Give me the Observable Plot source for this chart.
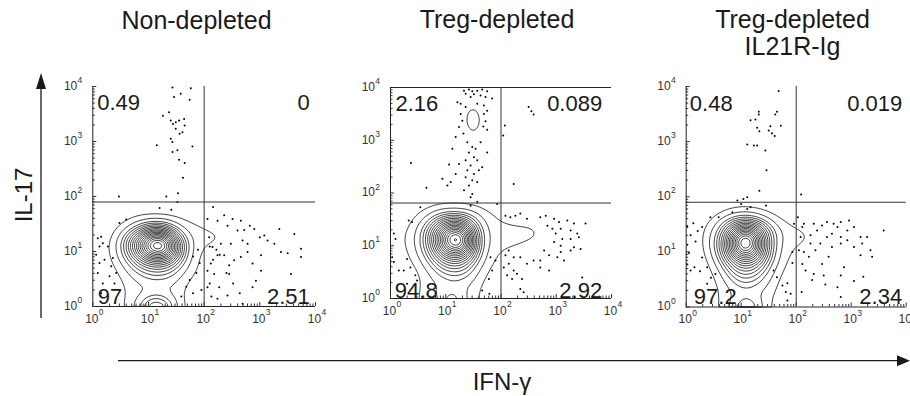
<!DOCTYPE html>
<html><head><meta charset="utf-8">
<script src="https://cdn.jsdelivr.net/npm/d3@7"></script>
<script src="https://cdn.jsdelivr.net/npm/@observablehq/plot@0.6"></script>
<style>
html,body{margin:0;padding:0;background:#fff;}
#wrap{position:relative;width:910px;height:396px;overflow:hidden;font-family:"Liberation Sans",Arial,Helvetica,sans-serif;}
</style></head><body><div id="wrap"></div>
<script>
// ---------- data (log10 units) ----------
const titles = ["Non-depleted", "Treg-depleted", "Treg-depleted\nIL21R-Ig"];
const yLabel = "IL-17";
const xLabel = "IFN-\u03b3";
const decades = [0, 1, 2, 3, 4];
const quad1 = ["0.49", "0", "97", "2.51"];
const quad2 = ["2.16", "0.089", "94.8", "2.92"];
const quad3 = ["0.48", "0.019", "97.2", "2.34"];
const gateX = [2, 2, 2];
const gateY = [1.9, 1.81, 1.9];
const levels = [1, 2, 3, ...d3.range(3.7, 21, 0.7)];

// density level grid (rows: y exponent, cols: x exponent)
const gridX = [0, 0.2, 0.4, 0.6, 0.8, 1.0, 1.2, 1.4, 1.6, 1.8, 2.0, 2.2, 2.4, 2.6, 2.8, 3.0];
const gridY = [2.0, 1.8, 1.6, 1.4, 1.2, 1.0, 0.8, 0.6, 0.4, 0.2, 0.0];
const grid1 = [
  [0,0,0,0,0,0,0,0,0,0,0,0,0,0,0,0],
  [0,0,0,0,0,0,0,0,0,0,0,0,0,0,0,0],
  [0,0,0.2,0.5,0.85,0.9,0.9,0.9,0.85,0.6,0.3,0,0,0,0,0],
  [0,0,0.6,1.7,3.3,5.9,6.8,4.8,1.9,1.4,1.2,1.1,0.6,0,0,0],
  [0,0.3,1.55,4.3,9.3,13.8,16.2,11.7,5.0,1.6,1.3,1.2,1.2,0.3,0,0],
  [0,0.33,1.6,4.3,8.8,13.5,15.0,11.5,5.0,1.3,0.7,0.5,0.3,0,0,0],
  [0,0.1,1.15,2.7,4.8,6.3,6.6,5.6,2.9,1.3,0.5,0.2,0,0,0,0],
  [0,0,0.6,1.55,2.8,3.8,4.0,3.4,1.9,1.15,0.4,0,0,0,0,0],
  [0,0,0.3,1.1,1.6,2.05,2.1,1.9,1.3,0.4,0,0,0,0,0,0],
  [0,0,0.2,1.1,1.4,1.7,1.75,1.6,1.1,0.2,0,0,0,0,0,0],
  [0,0,0.2,1.2,2.2,6.5,8.5,4.8,1.1,0.2,0,0,0,0,0,0]
];
const grid2 = [
  [0,0,0,0,0,0,0,0,0,0,0,0,0,0,0,0],
  [0,0,0,0.1,0.4,0.5,0.5,0.5,0.4,0.1,0,0,0,0,0,0],
  [0,0,0.5,1.3,2.3,2.9,3.0,2.8,2.0,1.2,0.5,0.1,0,0,0,0],
  [0,0.3,1.2,2.6,5.5,8.5,10.0,7.5,3.0,1.5,1.3,1.2,1.15,1.1,0.6,0],
  [0,0.8,1.6,3.4,8.0,13.0,17.2,12.0,3.6,1.6,1.4,1.35,1.3,1.25,1.05,0],
  [0,0.7,1.55,3.3,7.8,13.0,16.0,11.5,3.5,1.5,1.3,1.1,0.95,0.7,0.3,0],
  [0,0.3,1.3,2.6,5.5,8.5,9.5,7.0,2.8,1.3,0.7,0.5,0.3,0,0,0],
  [0,0,0.7,1.7,3.4,5.0,5.4,4.2,1.9,1.1,0.3,0,0,0,0,0],
  [0,0,0.3,1.05,2.3,3.2,3.5,2.9,1.4,0.5,0,0,0,0,0,0],
  [0,0,0.8,1.1,1.6,1.75,1.75,1.7,1.1,0.2,0,0,0,0,0,0],
  [0,0,0.8,1.2,1.6,4.0,5.0,1.8,0.9,0.2,0,0,0,0,0,0]
];
const grid3 = [
  [0,0,0,0,0,0,0,0,0,0,0,0,0,0,0,0],
  [0,0,0,0.1,0.4,0.6,0.6,0.4,0.2,0,0,0,0,0,0,0],
  [0,0,0.5,1.4,2.6,3.4,3.3,2.2,1.3,0.6,0.2,0,0,0,0,0],
  [0,0.2,1.3,3.0,6.5,10.5,11.0,7.0,3.0,1.6,1.3,1.1,0.4,0,0,0],
  [0,0.3,1.55,4.0,9.5,17.5,14.5,8.0,2.8,1.5,1.3,1.15,0.8,0.2,0,0],
  [0,0.2,1.3,3.9,9.0,14.0,13.0,7.5,2.7,1.3,0.7,0.4,0.2,0,0,0],
  [0,0,0.8,2.6,5.5,8.0,7.5,5.0,2.3,0.9,0.4,0.1,0,0,0,0],
  [0,0,0.4,1.5,3.6,5.4,5.0,3.5,1.5,0.6,0,0,0,0,0,0],
  [0,0,0.2,1.05,2.4,3.5,3.3,2.3,1.2,0.2,0,0,0,0,0,0],
  [0,0,0.1,1.1,1.5,1.7,1.65,1.5,0.9,0.1,0,0,0,0,0,0],
  [0,0,0.1,1.1,1.8,5.0,5.8,1.8,0.6,0.1,0,0,0,0,0,0]
];
const apex1 = [1.19, 1.12, 21];
const apex2 = [1.18, 1.13, 21];
const apex3 = [1.11, 1.18, 21];
// extra density samples (panel 2 IL-17+ population)
const extra2 = [[1.49,3.38,1.95],[1.49,3.55,1.9],[1.49,3.21,1.9],[1.49,3.7,1.3],[1.49,3.06,1.3],[1.40,3.38,1.7],[1.58,3.38,1.7],[1.25,3.38,0],[1.75,3.38,0],[1.49,3.98,0],[1.49,2.8,0],[1.28,3.7,0],[1.70,3.7,0],[1.28,3.05,0],[1.70,3.05,0]];

const dots1 = [[1.43,3.98],[1.76,3.97],[1.46,3.81],[1.58,3.87],[1.74,3.76],[1.26,3.47],[1.37,3.53],[1.40,3.38],[1.49,3.35],[1.55,3.38],[1.44,3.32],[1.64,3.41],[1.49,3.23],[1.65,3.29],[1.61,3.17],[1.56,3.14],[1.40,3.05],[1.43,2.99],[1.15,2.93],[1.79,2.91],[1.52,2.84],[1.43,2.81],[1.55,2.67],[1.65,2.61],[1.62,2.34],[1.53,2.06],[0.47,2.0],[1.32,2.0],[1.52,1.90],
[2.16,1.81],[2.36,1.66],[2.06,1.59],[2.24,1.56],[2.51,1.59],[2.66,1.56],[2.82,1.47],[2.42,1.47],[2.60,1.38],[2.72,1.39],[2.90,1.41],[3.08,1.29],[3.35,1.41],[3.00,1.26],[3.14,1.20],[3.26,1.14],[3.50,0.97],[3.74,1.05],[3.74,0.90],[3.38,0.99],[3.02,0.93],[2.78,1.14],[2.69,1.20],[2.48,1.14],[2.30,1.14],[2.15,1.08],[2.24,0.93],[2.36,0.93],[2.54,0.84],[2.45,0.75],[2.66,0.90],[2.78,0.99],[2.87,0.78],[3.02,0.65],[2.12,0.78],[2.06,0.65],[2.18,0.59],[2.45,0.59],[2.27,0.35],[2.24,0.14],[2.06,0.35],[2.42,0.20],[2.69,0.05],[2.93,0.47],[2.87,0.35],[3.56,0.59],[3.62,1.32],[2.09,1.26],[2.10,1.09],[2.22,1.03],[2.28,0.94],[2.16,0.85],[2.40,0.61],[2.10,0.42],[2.13,0.18],[2.64,0.24],[2.52,0.42],
[0.09,1.24],[0.15,1.27],[0.12,1.09],[0.18,1.15],[0.27,1.09],[0.06,0.94],[0.12,0.79],[0.21,0.85],[0.33,0.73],[0.36,0.88],[0.42,0.61],[0.30,0.55],[0.09,0.61],[0.18,0.42],[0.15,0.24],[0.39,0.42],[0.48,1.52],[0.60,1.58],[1.20,1.79],[1.41,1.76],[1.80,0.91],[1.92,0.79],[1.86,0.61],[1.74,0.48],[1.68,0.36],[1.80,0.24],[1.95,0.30],[1.59,0.18],[1.89,1.03]];
const dots2 = [[1.33,3.94],[1.42,3.96],[1.48,3.93],[1.57,3.94],[1.66,3.96],[1.75,3.93],[1.36,3.88],[1.51,3.87],[1.63,3.85],[1.72,3.82],[1.45,3.82],[1.84,3.79],[1.21,3.72],[1.27,3.69],[1.36,3.63],[1.57,3.69],[1.69,3.66],[1.75,3.56],[1.27,3.50],[1.30,3.37],[1.24,3.25],[1.32,3.13],[1.69,3.50],[1.72,3.36],[1.68,3.26],[1.75,3.20],[1.18,3.06],[1.39,2.96],[1.48,2.87],[1.54,2.84],[1.63,2.96],[1.42,2.77],[1.51,2.68],[1.57,2.62],[1.45,2.52],[1.39,2.43],[1.51,2.36],[1.60,2.43],[1.66,2.49],[1.36,2.30],[1.48,2.24],[1.57,2.21],[1.42,2.14],[1.33,2.05],[1.48,1.98],[1.45,1.92],[1.09,2.21],[1.03,2.14],[1.18,2.36],[1.12,2.84],[1.75,2.77],[1.24,2.55],[1.36,2.62],[0.94,2.27],[1.06,2.54],[0.37,2.57],[0.65,2.10],[2.07,3.28],[2.04,3.09],[2.23,2.17],[2.50,3.63],[2.55,3.55],[2.59,3.49],[3.02,3.77],[1.57,1.83],[1.93,1.79],[1.45,1.76],
[0.06,1.23],[0.09,1.13],[0.03,0.78],[0.06,0.69],[0.15,0.53],[0.24,0.53],[0.30,0.75],[0.33,1.48],[0.39,1.45],[0.36,0.59],[0.45,0.44],[0.48,0.34],[0.30,0.28],[0.54,1.73],[1.81,0.78],[1.90,0.72],[1.84,0.53],[1.78,0.37],[1.66,0.15],[1.79,0.09],
[2.08,1.57],[2.17,1.54],[2.26,1.57],[2.35,1.61],[2.47,1.51],[2.71,1.54],[2.81,1.57],[2.96,1.51],[3.05,1.45],[3.20,1.48],[3.32,1.42],[3.53,1.42],[2.84,1.38],[2.93,1.32],[3.08,1.32],[3.26,1.29],[3.38,1.23],[2.99,1.23],[3.11,1.13],[3.26,1.13],[3.41,1.16],[2.96,1.07],[3.08,1.00],[3.32,0.97],[3.44,0.94],[2.78,0.91],[2.87,0.82],[3.02,0.78],[3.14,0.72],[3.26,0.91],[2.71,0.72],[2.59,0.72],[2.47,0.66],[2.35,0.78],[2.23,0.78],[2.14,0.66],[2.05,0.59],[2.23,0.53],[2.11,0.44],[2.29,0.47],[2.38,0.37],[2.20,0.37],[2.41,0.12],[2.35,0.18],[2.71,0.59],[2.87,0.53],[3.47,0.40],[3.08,0.88],[2.08,0.82],[2.14,0.91]];
const dots3 = [[1.68,3.92],[1.32,3.54],[1.32,3.49],[1.26,3.40],[1.65,3.54],[1.62,3.49],[1.72,3.29],[1.53,3.28],[1.50,3.20],[1.56,3.15],[1.17,3.39],[1.29,3.25],[1.33,3.19],[1.61,3.10],[1.11,2.95],[1.23,2.93],[1.29,2.93],[1.44,2.84],[1.46,2.48],[1.33,2.11],[0.93,1.93],[1.04,1.96],[1.11,1.99],[1.00,1.87],[1.45,1.84],[2.09,2.04],[1.17,1.81],
[0.02,1.45],[0.13,1.52],[0.21,1.38],[0.08,1.30],[0.17,1.19],[0.02,1.13],[0.05,0.98],[0.02,0.77],[0.08,0.66],[0.15,0.72],[0.29,0.90],[0.25,0.65],[0.38,0.42],[0.45,0.53],[0.53,0.60],[0.38,0.72],[0.29,1.45],[0.44,1.63],[0.59,1.63],[0.84,1.72],[1.11,1.78],
[1.65,0.54],[1.59,0.66],[1.75,0.39],[1.81,0.27],[1.84,0.43],[1.93,0.80],[1.96,1.51],[1.90,0.24],[1.84,0.12],[1.93,1.00],
[2.03,1.63],[2.14,1.51],[2.11,1.45],[2.26,1.30],[2.38,1.39],[2.32,1.51],[2.47,1.48],[2.56,1.54],[2.68,1.51],[2.81,1.54],[2.96,1.57],[3.05,1.45],[2.93,1.39],[2.75,1.45],[2.65,1.33],[2.56,1.27],[2.44,1.15],[2.35,1.03],[2.23,0.91],[2.14,1.00],[2.26,1.15],[2.08,1.27],[2.81,1.27],[2.93,1.21],[3.17,1.27],[3.20,1.15],[3.29,1.27],[3.59,1.39],[3.35,1.03],[3.17,0.94],[3.05,1.09],[2.81,1.15],[2.65,1.09],[2.59,0.91],[2.47,0.78],[2.32,0.60],[2.29,0.49],[2.50,0.57],[2.53,0.41],[2.81,0.57],[2.75,0.36],[2.81,0.18],[3.05,0.47],[3.22,0.55],[3.38,0.91],[2.87,0.72],[2.11,0.78],[2.17,0.66],[2.05,1.03],[2.10,0.27]];

// ---------- build ----------
const FONT = '"Liberation Sans", Arial, Helvetica, sans-serif';
const minorTicks = [];
for (let d = 0; d < 4; d++) for (let k = 2; k < 10; k++) minorTicks.push(d + Math.log10(k));

function field(grid, apex, extra) {
  const pts = [];
  grid.forEach((row, i) => row.forEach((v, j) => pts.push({x: gridX[j], y: gridY[i], v})));
  pts.push({x: apex[0], y: apex[1], v: apex[2]});
  for (const [x, y, v] of extra) pts.push({x, y, v});
  for (const [x, y] of [[4,0],[4,1],[4,2],[4,3],[4,4],[3.5,0],[3.5,2],[0,3],[0,4],[1,4],[2,4],[3,4],[0.5,3],[2.5,3]]) pts.push({x, y, v: 0});
  return pts;
}

function panel(o) {
  const [fl, fr, ft, fb] = o.frame;
  const xPx = (fr - fl) / 4, yPx = (fb - ft) / 4;
  const q = o.quad, qo = o.qoff;
  const txt = {fontFamily: FONT, fill: "#1a1a1a"};
  const marks = [
    Plot.contour(field(o.grid, o.apex, o.extra), {x: "x", y: "y", value: "v", interpolate: "barycentric", blur: 3, thresholds: levels, stroke: "#111", strokeWidth: 0.8, fill: "none"}),
    Plot.dot(o.dots.map(([x, y]) => ({x, y})), {x: "x", y: "y", r: 1, fill: "#000", stroke: "none"}),
    Plot.ruleX([o.gx], {stroke: "#333", strokeWidth: 1}),
    Plot.ruleY([o.gy], {stroke: "#333", strokeWidth: 1}),
    Plot.ruleX([0], {stroke: "#222", strokeWidth: 1}),
    Plot.ruleY([0], {stroke: "#222", strokeWidth: 1}),
    Plot.ruleX(minorTicks, {x: d => d, y1: 0, y2: 2.5 / yPx, stroke: "#333"}),
    Plot.ruleX(decades, {x: d => d, y1: 0, y2: 4 / yPx, stroke: "#333"}),
    Plot.ruleY(minorTicks, {y: d => d, x1: 0, x2: 2.5 / xPx, stroke: "#333"}),
    Plot.ruleY(decades, {y: d => d, x1: 0, x2: 4 / xPx, stroke: "#333"}),
    Plot.text(decades, {x: d => d, y: 0, text: () => "10", dy: 16, dx: -1, textAnchor: "middle", lineAnchor: "bottom", fontSize: 12, fontFamily: FONT, fill: "#333"}),
    Plot.text(decades, {x: d => d, y: 0, text: d => String(d), dx: 6, dy: 8.5, textAnchor: "start", lineAnchor: "bottom", fontSize: 8.5, fontFamily: FONT, fill: "#333"}),
    Plot.text(decades, {x: 0, y: d => d, text: () => "10", dx: -15.5, dy: -0.5, textAnchor: "end", lineAnchor: "middle", fontSize: 12, fontFamily: FONT, fill: "#333"}),
    Plot.text(decades, {x: 0, y: d => d, text: d => String(d), dx: -15.3, dy: -6, textAnchor: "start", lineAnchor: "middle", fontSize: 8.5, fontFamily: FONT, fill: "#333"}),
    Plot.text([q[0]], {text: d => d, frameAnchor: "top-left", textAnchor: "start", lineAnchor: "bottom", dx: qo[0][0], dy: qo[0][1], fontSize: 22, ...txt}),
    Plot.text([q[1]], {text: d => d, frameAnchor: "top-right", textAnchor: "end", lineAnchor: "bottom", dx: qo[1][0], dy: qo[1][1], fontSize: 22, ...txt}),
    Plot.text([q[2]], {text: d => d, frameAnchor: "bottom-left", textAnchor: "start", lineAnchor: "bottom", dx: qo[2][0], dy: qo[2][1], fontSize: 22, ...txt}),
    Plot.text([q[3]], {text: d => d, frameAnchor: "bottom-right", textAnchor: "end", lineAnchor: "bottom", dx: qo[3][0], dy: qo[3][1], fontSize: 22, ...txt})
  ];
  if (o.topBorder) marks.push(Plot.ruleY([4], {stroke: "#222", strokeWidth: 1}));
  const svg = Plot.plot({
    width: o.width, height: 396,
    marginLeft: fl - o.left, marginRight: o.left + o.width - fr,
    marginTop: ft, marginBottom: 396 - fb,
    x: {type: "linear", domain: [0, 4], axis: null},
    y: {type: "linear", domain: [0, 4], axis: null},
    style: {background: "transparent", overflow: "visible"},
    marks
  });
  svg.style.position = "absolute";
  svg.style.left = o.left + "px";
  svg.style.top = "0px";
  svg.style.maxWidth = "none";
  document.getElementById("wrap").appendChild(svg);
}

panel({left: 0, width: 330, frame: [92.3, 315, 86, 306], grid: grid1, apex: apex1, extra: [], dots: dots1, quad: quad1,
  qoff: [[4.4, 23.3], [-5.7, 23.3], [5, -2.7], [-5.7, -2.7]], gx: gateX[0], gy: gateY[0], topBorder: false});
panel({left: 330, width: 290, frame: [390, 611, 87, 298], grid: grid2, apex: apex2, extra: extra2, dots: dots2, quad: quad2,
  qoff: [[5, 23.7], [-9.3, 23.7], [4.3, -1], [-9.3, -1]], gx: gateX[1], gy: gateY[1], topBorder: true});
panel({left: 620, width: 290, frame: [685.7, 905.7, 86, 306.5], grid: grid3, apex: apex3, extra: [], dots: dots3, quad: quad3,
  qoff: [[3.6, 24], [-4, 24], [7.6, -3.5], [-4, -3.5]], gx: gateX[2], gy: gateY[2], topBorder: false});

// ---------- overlay: titles, axis labels, arrows ----------
const ov = d3.select("#wrap").append("svg").attr("width", 910).attr("height", 396)
  .style("position", "absolute").style("left", "0px").style("top", "0px")
  .attr("font-family", FONT);
const titlePos = [[196.5, 29], [497, 28], [792.5, 27.5]];
titles.forEach((t, i) => t.split("\n").forEach((ln, j) =>
  ov.append("text").attr("x", titlePos[i][0]).attr("y", titlePos[i][1] + j * 27.5)
    .attr("text-anchor", "middle").attr("font-size", 25).attr("fill", "#1a1a1a").text(ln)));
ov.append("text").attr("transform", "translate(31.5,195) rotate(-90)").attr("text-anchor", "middle")
  .attr("font-size", 24).attr("fill", "#1a1a1a").text(yLabel);
ov.append("text").attr("x", 502).attr("y", 390).attr("text-anchor", "middle")
  .attr("font-size", 24).attr("fill", "#1a1a1a").text(xLabel);
ov.append("line").attr("x1", 41).attr("y1", 318).attr("x2", 41).attr("y2", 86).attr("stroke", "#1a1a1a").attr("stroke-width", 1.3);
ov.append("path").attr("d", "M41,73L36,89L46,89Z").attr("fill", "#1a1a1a");
ov.append("line").attr("x1", 118).attr("y1", 360.7).attr("x2", 899).attr("y2", 360.7).attr("stroke", "#1a1a1a").attr("stroke-width", 1.3);
ov.append("path").attr("d", "M910,360.7L897,355.2L897,366.2Z").attr("fill", "#1a1a1a");
</script></body></html>
